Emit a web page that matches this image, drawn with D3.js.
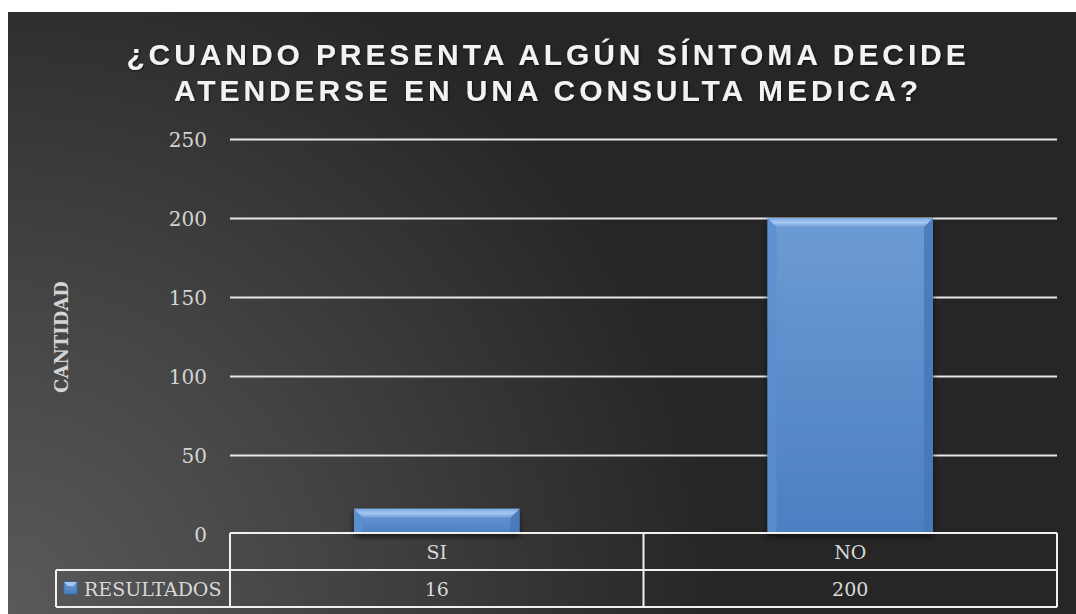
<!DOCTYPE html>
<html>
<head>
<meta charset="utf-8">
<script src="https://cdn.jsdelivr.net/npm/d3@7"></script>
<style>
  body { margin: 0; background: #fff; }
  svg { display: block; }
</style>
</head>
<body>
<div id="container"></div>
<script>
const W = 1076, H = 614;

// data
const categories = ["SI", "NO"];
const resultados = [16, 200];
const yTicks = [0, 50, 100, 150, 200, 250];
const seriesName = "RESULTADOS";
const titleLines = ["¿CUANDO PRESENTA ALGÚN SÍNTOMA DECIDE", "ATENDERSE EN UNA CONSULTA MEDICA?"];
const yTitle = "CANTIDAD";

let serif = "DejaVu Serif, Cambria, serif";

let svg = d3.select("#container")
  .append("svg")
    .attr("width", W)
    .attr("height", H);

let defs = svg.append("defs");

let bg = defs.append("radialGradient")
  .attr("id", "bg")
  .attr("gradientUnits", "userSpaceOnUse")
  .attr("cx", 0).attr("cy", H).attr("r", 720);
bg.append("stop").attr("offset", "0%").attr("stop-color", "#5a5a5a");
bg.append("stop").attr("offset", "45%").attr("stop-color", "#444");
bg.append("stop").attr("offset", "100%").attr("stop-color", "#262626");

let barFill = defs.append("linearGradient")
  .attr("id", "barFill").attr("x1", 0).attr("y1", 0).attr("x2", 0).attr("y2", 1);
barFill.append("stop").attr("offset", "0%").attr("stop-color", "#6d9bd4");
barFill.append("stop").attr("offset", "100%").attr("stop-color", "#4b7fc1");

let topFill = defs.append("linearGradient")
  .attr("id", "topFill").attr("x1", 0).attr("y1", 0).attr("x2", 0).attr("y2", 1);
topFill.append("stop").attr("offset", "0%").attr("stop-color", "#7aa8e0");
topFill.append("stop").attr("offset", "50%").attr("stop-color", "#a6c8f2");
topFill.append("stop").attr("offset", "100%").attr("stop-color", "#6f9cd6");

let shadow = defs.append("filter").attr("id", "shadow")
  .attr("x", "-10%").attr("y", "-10%").attr("width", "120%").attr("height", "130%");
shadow.append("feDropShadow")
  .attr("dx", 0).attr("dy", 3).attr("stdDeviation", 3)
  .attr("flood-color", "#000").attr("flood-opacity", 0.6);

let titleShadow = defs.append("filter").attr("id", "tshadow");
titleShadow.append("feDropShadow")
  .attr("dx", 1).attr("dy", 1).attr("stdDeviation", 1)
  .attr("flood-color", "#000").attr("flood-opacity", 0.6);

// chart background
svg.append("rect")
  .attr("x", 8).attr("y", 12)
  .attr("width", W - 8).attr("height", H - 12)
  .attr("fill", "url(#bg)");

// title
svg.append("g")
  .attr("filter", "url(#tshadow)")
  .selectAll("text")
  .data(titleLines)
  .enter()
  .append("text")
    .text(d => d)
    .attr("x", 548)
    .attr("y", (d, i) => 65 + i * 36)
    .attr("text-anchor", "middle")
    .attr("font-family", "Liberation Sans, Arial, sans-serif")
    .attr("font-weight", "bold")
    .attr("font-size", 30)
    .attr("letter-spacing", 3.9)
    .attr("fill", "#f2f2f2");

// scales
let x = d3.scaleBand()
  .domain(categories)
  .range([230, 1057])
  .paddingInner(0.6)
  .paddingOuter(0.3);

let y = d3.scaleLinear()
  .domain([0, 250])
  .range([534, 139]);

// gridlines + tick labels
let yAxis = d3.axisLeft(y)
  .tickValues(yTicks)
  .tickSize(-(1057 - 230))
  .tickPadding(23);

let yg = svg.append("g")
  .attr("transform", "translate(230,0)")
  .call(yAxis);
yg.select(".domain").remove();
yg.selectAll(".tick line")
  .attr("stroke", "#e8e8e8")
  .attr("stroke-width", 2)
  .filter(d => d === 0).remove();
yg.selectAll(".tick text")
  .attr("font-family", serif)
  .attr("font-size", 20)
  .attr("fill", "#d4d4d4")
  .attr("dy", "0.35em");

// y axis title
svg.append("text")
  .text(yTitle)
  .attr("transform", "translate(68,337) rotate(-90)")
  .attr("text-anchor", "middle")
  .attr("font-family", serif)
  .attr("font-weight", "bold")
  .attr("font-size", 18)
  .attr("fill", "#d4d4d4");

// bars with bevel
let bars = svg.append("g").selectAll(".bar")
  .data(categories.map((c, i) => ({ cat: c, value: resultados[i] })))
  .enter()
  .append("g")
    .attr("class", "bar");

function bevelPolys(d) {
  let x0 = x(d.cat), x1 = x(d.cat) + x.bandwidth();
  let y0 = y(d.value), y1 = y(0);
  let b = Math.min(9, (y1 - y0) / 2.5);
  return {
    top: [[x0, y0], [x1, y0], [x1 - b, y0 + b], [x0 + b, y0 + b]],
    left: [[x0, y0], [x0 + b, y0 + b], [x0 + b, y1 - 2], [x0, y1]],
    right: [[x1, y0], [x1, y1], [x1 - b, y1 - 2], [x1 - b, y0 + b]],
    bottom: [[x0, y1], [x0 + b, y1 - 2], [x1 - b, y1 - 2], [x1, y1]]
  };
}
let toPts = p => p.map(q => q.join(",")).join(" ");

bars.append("rect")
  .attr("x", d => x(d.cat))
  .attr("y", d => y(d.value))
  .attr("width", x.bandwidth())
  .attr("height", d => y(0) - y(d.value))
  .attr("fill", "url(#barFill)")
  .attr("filter", "url(#shadow)");

bars.append("polygon")
  .attr("points", d => toPts(bevelPolys(d).left))
  .attr("fill", "#5d8fcf").attr("opacity", 0.8);
bars.append("polygon")
  .attr("points", d => toPts(bevelPolys(d).right))
  .attr("fill", "#4676b6").attr("opacity", 0.8);
bars.append("polygon")
  .attr("points", d => toPts(bevelPolys(d).bottom))
  .attr("fill", "#3f70b0").attr("opacity", 0.8);
bars.append("polygon")
  .attr("points", d => toPts(bevelPolys(d).top))
  .attr("fill", "url(#topFill)");

// data table
const tLeft = 230, tRight = 1057, tTop = 533, tMid = 570, tBot = 607, legLeft = 56;
let table = svg.append("g")
  .attr("stroke", "#f0f0f0")
  .attr("stroke-width", 2)
  .attr("fill", "none");

table.append("line").attr("x1", tLeft).attr("x2", tRight).attr("y1", tTop).attr("y2", tTop);
table.append("line").attr("x1", legLeft).attr("x2", tRight).attr("y1", tMid).attr("y2", tMid);
table.append("line").attr("x1", legLeft).attr("x2", tRight).attr("y1", tBot).attr("y2", tBot);
table.append("line").attr("x1", legLeft).attr("x2", legLeft).attr("y1", tMid).attr("y2", tBot);
table.append("line").attr("x1", tLeft).attr("x2", tLeft).attr("y1", tTop).attr("y2", tBot);
table.append("line").attr("x1", tRight).attr("x2", tRight).attr("y1", tTop).attr("y2", tBot);
table.selectAll(".div")
  .data(categories.slice(1))
  .enter()
  .append("line")
    .attr("x1", d => x(d) - (x.step() - x.bandwidth()) / 2)
    .attr("x2", d => x(d) - (x.step() - x.bandwidth()) / 2)
    .attr("y1", tTop).attr("y2", tBot);

svg.append("g").selectAll("text.cat")
  .data(categories)
  .enter()
  .append("text")
    .attr("class", "cat")
    .text(d => d)
    .attr("x", d => x(d) + x.bandwidth() / 2)
    .attr("y", 559)
    .attr("text-anchor", "middle")
    .attr("font-family", serif)
    .attr("font-size", 19)
    .attr("fill", "#d9d9d9");

svg.append("g").selectAll("text.val")
  .data(resultados)
  .enter()
  .append("text")
    .attr("class", "val")
    .text(d => d)
    .attr("x", (d, i) => x(categories[i]) + x.bandwidth() / 2)
    .attr("y", 596)
    .attr("text-anchor", "middle")
    .attr("font-family", serif)
    .attr("font-size", 19)
    .attr("fill", "#d9d9d9");

// legend key
svg.append("rect")
  .attr("x", 64).attr("y", 582)
  .attr("width", 13).attr("height", 12)
  .attr("fill", "url(#barFill)")
  .attr("stroke", "#3a6aa8").attr("stroke-width", 1);
svg.append("polygon")
  .attr("points", "64,582 77,582 73,586 68,586")
  .attr("fill", "#a6c8f2");

svg.append("text")
  .text(seriesName)
  .attr("x", 84)
  .attr("y", 596)
  .attr("font-family", serif)
  .attr("font-size", 19)
  .attr("fill", "#d9d9d9");
</script>
</body>
</html>
